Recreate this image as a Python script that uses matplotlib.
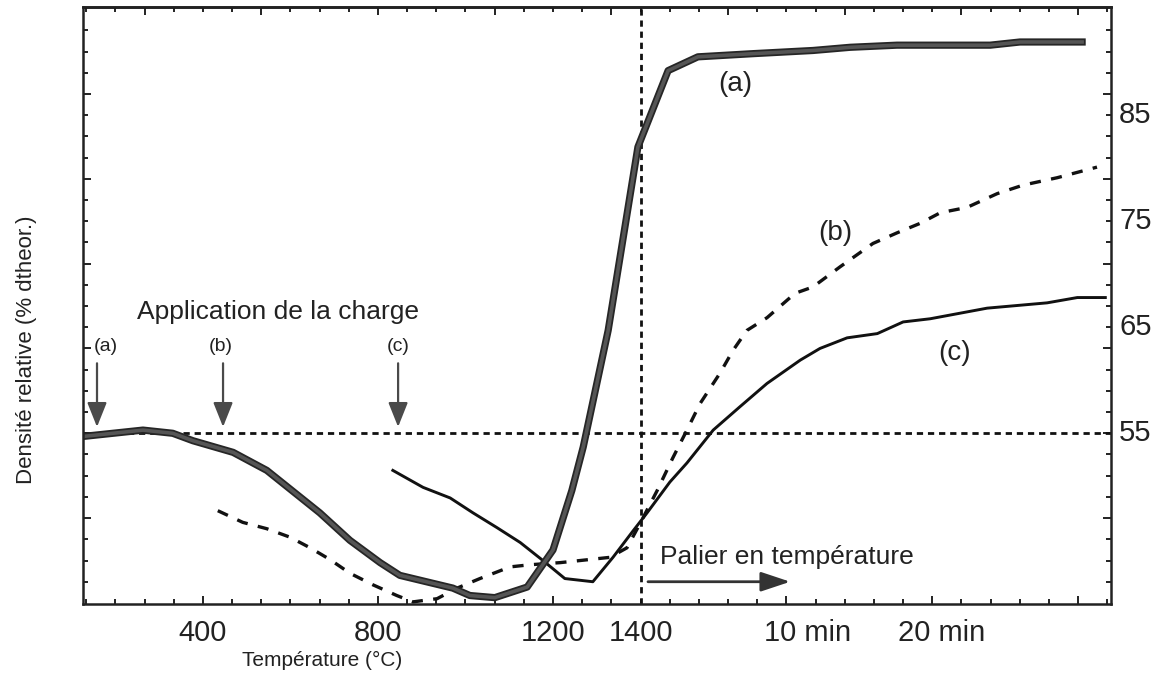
import numpy as np
import matplotlib
matplotlib.use("Agg")
import matplotlib.pyplot as plt
import matplotlib.patheffects as pe
from matplotlib import transforms

plt.rcParams['font.family'] = ['Liberation Sans', 'DejaVu Sans']
plt.rcParams['lines.scale_dashes'] = False

# === Données (position en °C ; après 1400 °C, 1 min = 100/3 unités) ===
x_a = [126, 263, 331, 377, 469, 546, 667, 736, 805, 850, 971, 1010, 1067, 1141,
       1200, 1243, 1269, 1326, 1394, 1463, 1531, 1657, 1794, 1879, 1986, 2199,
       2267, 2409]
y_a = [54.7, 55.3, 55.0, 54.3, 53.2, 51.5, 47.5, 44.9, 42.8, 41.6, 40.4, 39.7,
       39.5, 40.5, 44.0, 49.6, 53.7, 64.7, 82.0, 89.2, 90.5, 90.8, 91.1, 91.4,
       91.6, 91.6, 91.9, 91.9]

x_b = [434, 491, 546, 599, 645, 690, 736, 789, 843, 880, 935, 981, 1033, 1102,
       1147, 1216, 1262, 1330, 1369, 1399, 1438, 1474, 1506, 1536, 1582, 1611,
       1643, 1689, 1753, 1794, 1856, 1931, 1986, 2039, 2085, 2146, 2215, 2274,
       2352, 2443]
y_b = [47.7, 46.6, 46.0, 45.2, 44.2, 43.1, 41.8, 40.7, 39.7, 39.1, 39.4, 40.4,
       41.3, 42.4, 42.6, 42.8, 43.0, 43.3, 44.2, 46.5, 49.6, 52.7, 55.3, 57.8,
       60.7, 62.8, 64.7, 65.9, 68.2, 68.8, 70.7, 72.9, 73.9, 74.8, 75.8, 76.3,
       77.6, 78.4, 79.1, 80.1]

x_c = [834, 903, 965, 1017, 1072, 1125, 1177, 1227, 1291, 1337, 1383, 1415,
       1467, 1506, 1566, 1627, 1689, 1765, 1810, 1872, 1941, 2000, 2062, 2192,
       2329, 2398, 2462]
y_c = [51.5, 49.9, 48.9, 47.5, 46.1, 44.7, 43.0, 41.3, 41.0, 43.3, 45.8, 47.5,
       50.4, 52.2, 55.3, 57.5, 59.7, 61.9, 63.0, 64.0, 64.4, 65.5, 65.8, 66.8,
       67.3, 67.8, 67.8]

charge_x = [158, 446, 846]
charge_labels = ['(a)', '(b)', '(c)']

xtick_pos = [400, 800, 1200, 1400, 1781, 2087]
xtick_labels = ['400', '800', '1200', '1400', '10 min', '20 min']
ytick_vals = [85, 75, 65, 55]

# === Figure ===
fig = plt.figure(figsize=(11.64, 6.76), dpi=100)
ax = fig.add_axes([83 / 1164, 1 - 604 / 676, 1028 / 1164, 597 / 676])
ax.set_xlim(126, 2475)
ax.set_ylim(38.9, 95.2)

for s in ax.spines.values():
    s.set_linewidth(1.8)
    s.set_color('#222222')

# graduations
step = 400 / 6
minor_x = [400 + step * k for k in range(-4, 32)]
ax.set_xticks([400, 800, 1200, 400 + step * 20, 400 + step * 25, 400 + step * 30])
ax.set_xticks(minor_x, minor=True)
ax.set_yticks([47, 55, 63, 71, 79, 87])
ax.set_yticks(list(range(41, 94, 2)), minor=True)
ax.tick_params(which='both', direction='in', left=True, right=True, top=False,
               labelbottom=False, labelleft=False, width=1.4, color='#222222')
ax.tick_params(which='major', length=6)
ax.tick_params(which='minor', length=3.5)

top = ax.secondary_xaxis('top')
top.set_xticks([400 + step * k for k in range(-2, 31, 4)])
top.set_xticks(minor_x, minor=True)
top.tick_params(which='both', direction='in', labeltop=False, width=1.4, color='#222222')
top.tick_params(which='major', length=6)
top.tick_params(which='minor', length=3.5)
top.spines['top'].set_linewidth(1.8)

# lignes de repère
ax.axhline(55, color='#111111', lw=2.0, dashes=(4.5, 3.5))
ax.axvline(1400, color='#111111', lw=2.0, dashes=(4.5, 3.5))

# courbes
ax.plot(x_c, y_c, color='#111111', lw=2.1, solid_joinstyle='round')
ax.plot(x_b, y_b, color='#111111', lw=2.4, dashes=(8, 7.5))
ax.plot(x_a, y_a, color='#555555', lw=2.6, solid_joinstyle='round',
        path_effects=[pe.Stroke(linewidth=5.2, foreground='#262626'), pe.Normal()])

# libellés des courbes
ax.text(1616, 87.9, '(a)', fontsize=20, ha='center', va='center', color='#222222')
ax.text(1845, 73.9, '(b)', fontsize=20, ha='center', va='center', color='#222222')
ax.text(2117, 62.6, '(c)', fontsize=20, ha='center', va='center', color='#222222')

# application de la charge
ax.text(571, 65.8, 'Application de la charge', fontsize=19, ha='center',
        va='baseline', color='#222222')
for xv, lab in zip(charge_x, charge_labels):
    ax.text(xv + (20 if lab == '(a)' else -6 if lab == '(b)' else 0), 63.2, lab,
            fontsize=14, ha='center', va='center', color='#222222')
    ax.annotate('', xy=(xv, 55.6), xytext=(xv, 61.6),
                arrowprops=dict(arrowstyle='-|>,head_length=0.75,head_width=0.3',
                                mutation_scale=20, lw=1.6, color='#4a4a4a',
                                shrinkA=0, shrinkB=0))

# palier en température
ax.text(1445, 42.7, 'Palier en température', fontsize=19, ha='left',
        va='baseline', color='#222222')
ax.annotate('', xy=(1742, 41.0), xytext=(1417, 41.0),
            arrowprops=dict(arrowstyle='-|>,head_length=0.9,head_width=0.3',
                            mutation_scale=20, lw=2.0, color='#333333',
                            shrinkA=0, shrinkB=0))

# étiquettes des axes
bx = transforms.blended_transform_factory(ax.transData, ax.transAxes)
for xv, lab in zip(xtick_pos, xtick_labels):
    ax.text(xv, -0.025, lab, transform=bx, fontsize=21, ha='center', va='top',
            color='#222222')
by = transforms.blended_transform_factory(ax.transAxes, ax.transData)
for yv in ytick_vals:
    ax.text(1.008, yv, str(yv), transform=by, fontsize=21, ha='left',
            va='center', color='#222222')

fig.text(322 / 1164, 1 - 660 / 676, 'Température (°C)', fontsize=15,
         ha='center', va='center', color='#222222')
fig.text(27 / 1164, 1 - 350 / 676, 'Densité relative (% dtheor.)', fontsize=16,
         rotation=90, ha='center', va='center', color='#222222')

fig.savefig('out.png', dpi=100)
